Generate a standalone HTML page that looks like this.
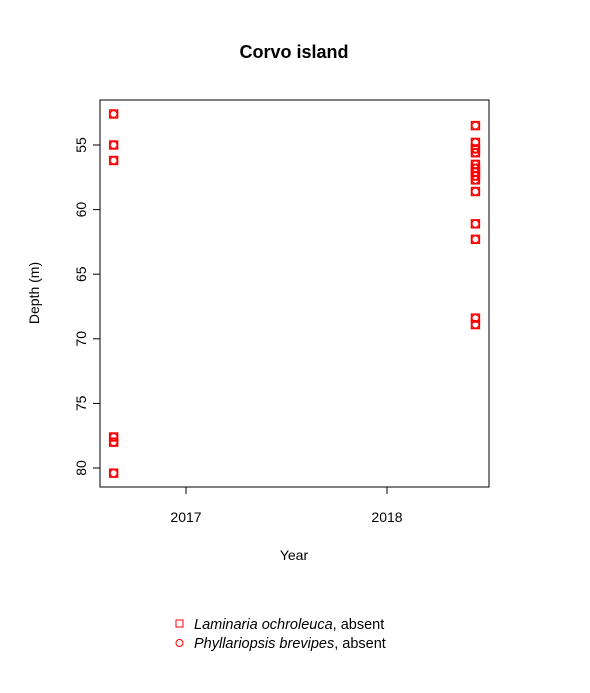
<!DOCTYPE html>
<html><head><meta charset="utf-8"><style>
body{margin:0;background:#fff;}
svg text{font-family:"Liberation Sans",Arial,sans-serif;}
</style></head><body>
<svg id="chart" width="590" height="688" xmlns="http://www.w3.org/2000/svg">
<rect width="590" height="688" fill="#fff"/>
<text x="294" y="58" text-anchor="middle" font-size="18" font-weight="bold">Corvo island</text>
<rect x="100" y="100" width="389" height="387" fill="none" stroke="#000"/>
<g id="yaxis"></g>
<g id="xaxis"></g>
<text x="294" y="560" text-anchor="middle" font-size="14">Year</text>
<text transform="translate(39,293) rotate(-90)" text-anchor="middle" font-size="14">Depth (m)</text>
<g id="points"></g>
<g>
<g>
<rect x="176" y="620" width="7" height="7" fill="none" stroke="red"/>
<text x="194" y="629" font-size="14.5"><tspan font-style="italic">Laminaria ochroleuca</tspan>, absent</text></g>
<g>
<circle cx="179.5" cy="643" r="3.5" fill="none" stroke="red"/>
<text x="194" y="648" font-size="14.5"><tspan font-style="italic">Phyllariopsis brevipes</tspan>, absent</text></g>
</g>
</svg>
<script>
const years=[2016.64,2016.64,2016.64,2016.64,2016.64,2016.64,2018.44,2018.44,2018.44,2018.44,2018.44,2018.44,2018.44,2018.44,2018.44,2018.44,2018.44,2018.44,2018.44,2018.44];
const depths=[52.6,55.0,56.2,77.6,78.0,80.4,53.5,54.8,55.3,55.6,56.5,56.8,57.1,57.4,57.7,58.6,61.1,62.3,68.4,68.9];
const yTicks=[55,60,65,70,75,80];
const xTicks=[2017,2018];
const NS="http://www.w3.org/2000/svg";
const xs=v=>186+(v-2017)*201;
const ys=v=>145+(v-55)*12.92;
function mk(t,a,p){const e=document.createElementNS(NS,t);for(const k in a)e.setAttribute(k,a[k]);p.appendChild(e);return e;}
const ya=document.getElementById('yaxis'),xa=document.getElementById('xaxis'),pg=document.getElementById('points');
mk('line',{x1:100,x2:100,y1:ys(55),y2:ys(80),stroke:'#000'},ya);
yTicks.forEach(v=>{
 const l=mk('line',{x1:93,x2:100,y1:ys(v),y2:ys(v),stroke:'#000'},ya);
 
 
 const t=mk('text',{transform:`translate(86,${ys(v)}) rotate(-90)`,'text-anchor':'middle','font-size':14},ya);
 t.textContent=v;
 
 
});
mk('line',{x1:xs(2017),x2:xs(2018),y1:487,y2:487,stroke:'#000'},xa);
xTicks.forEach(v=>{
 const l=mk('line',{x1:xs(v),x2:xs(v),y1:487,y2:494,stroke:'#000'},xa);
 
 
 const t=mk('text',{x:xs(v),y:522,'text-anchor':'middle','font-size':14},xa);
 t.textContent=v;
 
 
});
for(let i=0;i<depths.length;i++){
 const x=xs(years[i]),y=ys(depths[i]);
 const r=mk('rect',{x:x-4,y:y-4,width:8,height:8,fill:'none',stroke:'red','stroke-width':1.4},pg);
 
 
 const c=mk('circle',{cx:x,cy:y,r:3.6,fill:'none',stroke:'red','stroke-width':1.4},pg);
 
 
}
</script>
</body></html>
